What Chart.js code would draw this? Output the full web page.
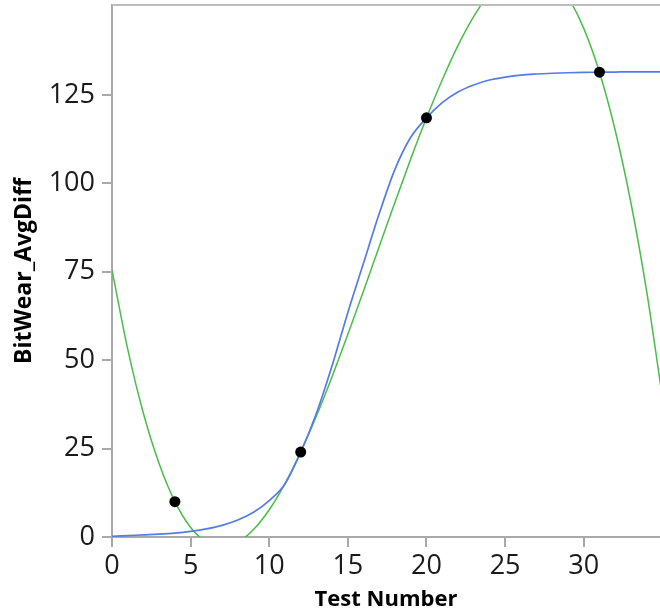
<!DOCTYPE html>
<html>
<head>
<meta charset="utf-8">
<script src="https://cdn.jsdelivr.net/npm/chart.js@4/dist/chart.umd.min.js"></script>
<style>
  html, body { margin: 0; padding: 0; background: #ffffff; }
  #wrap { width: 660px; height: 614px; position: relative; }
</style>
</head>
<body>
<div id="wrap"><canvas id="c" width="660" height="614"></canvas></div>
<script>
// ---- data ----
const xTickValues = [0, 5, 10, 15, 20, 25, 30];
const yTickValues = [0, 25, 50, 75, 100, 125];

const pointX = [4, 12, 20, 31];
const pointY = [10, 24, 118.5, 131.4];

const curveX = [0, 1, 2, 3, 4, 5, 6, 7, 8, 9, 10, 11, 12, 13, 14, 15, 16, 17,
                18, 19, 20, 21, 22, 23, 24, 25, 26, 27, 28, 29, 30, 31, 32, 33, 34, 35];
// green fitted polynomial
const greenY = [75.5, 53.1, 34.9, 20.7, 10, 2.7, -1.4, -2.8, -1.5, 2.1, 7.7, 15.1,
                24, 34.2, 45.4, 57.3, 69.6, 82.2, 94.7, 106.9, 118.5, 129.2, 138.9,
                147.1, 153.7, 158.3, 160.8, 160.9, 158.2, 152.6, 143.8, 131.4, 115.0,
                94.5, 69.5, 39.5];
// blue sigmoid fit
const blueY = [0.2, 0.4, 0.6, 0.8, 1.1, 1.6, 2.3, 3.3, 4.8, 7.0, 10.3, 15.0,
               24.0, 35.0, 48.5, 63.5, 77.5, 91.5, 104.0, 113.0, 118.5, 122.8, 125.8,
               127.8, 129.2, 130.0, 130.6, 130.9, 131.1, 131.25, 131.35, 131.4, 131.45,
               131.5, 131.5, 131.5];

const xMin = 0, xMax = 34.85;
const yMin = 0, yMax = 150.4;

const xTitle = 'Test Number';
const yTitle = 'BitWear_AvgDiff';

// ---- build ----
const toXY = (xs, ys) => xs.map((x, i) => ({ x: x, y: ys[i] }));

const axisColor = '#a9a9a9';
const FONT = "'Open Sans', 'Noto Sans', sans-serif";

const frameTop = {
  id: 'frameTop',
  afterDraw(chart) {
    const { ctx, chartArea } = chart;
    ctx.save();
    ctx.strokeStyle = '#bdbdbd';
    ctx.lineWidth = 2;
    ctx.beginPath();
    ctx.moveTo(chartArea.left, chartArea.top);
    ctx.lineTo(chartArea.right, chartArea.top);
    ctx.stroke();
    ctx.restore();
  }
};

new Chart(document.getElementById('c'), {
  type: 'line',
  data: {
    datasets: [
      {
        label: 'poly',
        data: toXY(curveX, greenY),
        borderColor: 'rgb(72,190,72)',
        borderWidth: 1.5,
        pointRadius: 0,
        cubicInterpolationMode: 'monotone',
        fill: false,
        order: 2
      },
      {
        label: 'sigmoid',
        data: toXY(curveX, blueY),
        borderColor: 'rgb(84,124,232)',
        borderWidth: 1.7,
        pointRadius: 0,
        cubicInterpolationMode: 'monotone',
        fill: false,
        order: 1
      },
      {
        type: 'scatter',
        label: 'obs',
        data: toXY(pointX, pointY),
        backgroundColor: '#000000',
        borderColor: '#000000',
        pointRadius: 5.5,
        pointBorderWidth: 0,
        showLine: false,
        order: 0
      }
    ]
  },
  options: {
    responsive: false,
    animation: false,
    devicePixelRatio: 1,
    layout: { autoPadding: false, padding: { top: 5, right: 0, left: 0, bottom: 0 } },
    plugins: { legend: { display: false }, tooltip: { enabled: false } },
    scales: {
      x: {
        type: 'linear',
        min: xMin, max: xMax,
        afterBuildTicks: (s) => { s.ticks = xTickValues.map(v => ({ value: v })); },
        afterFit: (s) => { s.height = 77; s.paddingLeft = 0; s.paddingRight = 0; },
        grid: { display: true, drawOnChartArea: false, drawTicks: true, tickLength: 10, color: axisColor, lineWidth: 2 },
        border: { display: true, color: axisColor, width: 2 },
        ticks: { color: '#1a1a1a', padding: 3, maxRotation: 0, autoSkip: false,
                 font: { family: FONT, size: 27 } },
        title: { display: true, text: xTitle, color: '#000000',
                 font: { family: FONT, size: 22, weight: 'bold' },
                 padding: { top: 0, bottom: 1 } }
      },
      y: {
        type: 'linear',
        min: yMin, max: yMax,
        afterBuildTicks: (s) => { s.ticks = yTickValues.map(v => ({ value: v })); },
        afterFit: (s) => { s.width = 112; s.paddingTop = 0; s.paddingBottom = 0; },
        grid: { display: true, drawOnChartArea: false, drawTicks: true, tickLength: 10, color: axisColor, lineWidth: 2 },
        border: { display: true, color: axisColor, width: 2 },
        ticks: { color: '#1a1a1a', padding: 7, autoSkip: false,
                 font: { family: FONT, size: 27 } },
        title: { display: true, text: yTitle, color: '#000000',
                 font: { family: FONT, size: 23, weight: 'bold' },
                 padding: { top: 11, bottom: 0 } }
      }
    }
  },
  plugins: [frameTop]
});
</script>
</body>
</html>
